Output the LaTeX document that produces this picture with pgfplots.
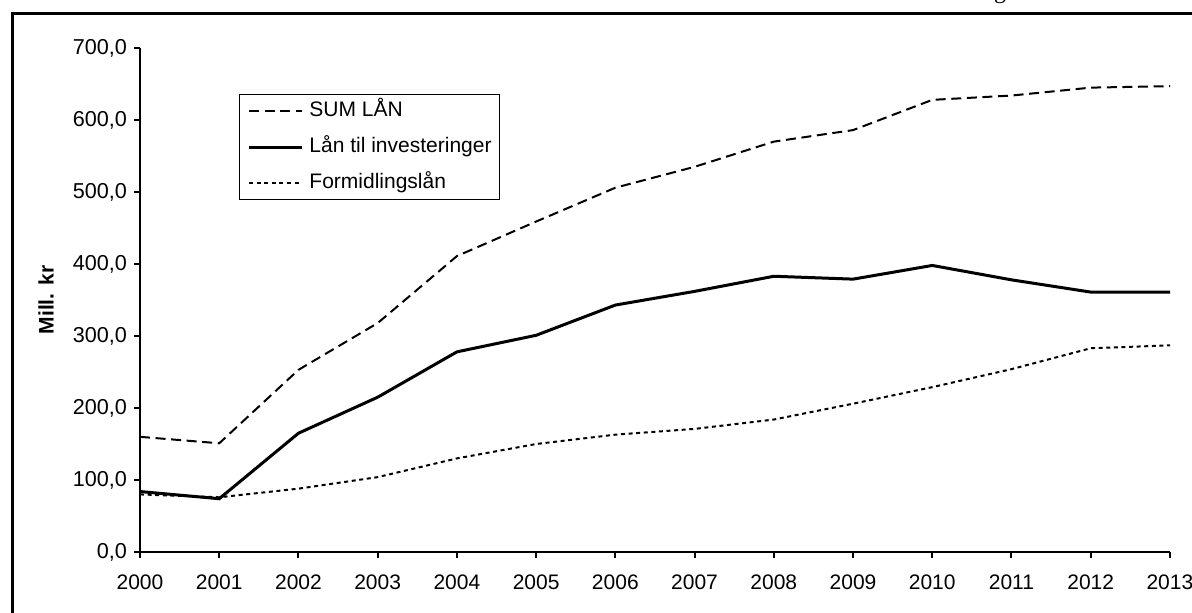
\documentclass[border=0pt]{standalone}
\usepackage{pgfplots}
\pgfplotsset{compat=1.18}
\usepackage{fontspec}
\setmainfont{Liberation Sans}
\newfontfamily\seriffont{Liberation Serif}
\pgfplotstableread{
year sum inv form
2000 160 84 80
2001 151 74 76
2002 253 165 88
2003 318 215 104
2004 411 278 130
2005 459 301 150
2006 506 343 163
2007 535 362 171
2008 570 383 184
2009 586 379 206
2010 628 398 229
2011 634 378 254
2012 645 361 283
2013 647 361 287
}\datatable
\begin{document}
\begin{tikzpicture}
\useasboundingbox (0,0) rectangle (596pt,306pt);
\clip (0,0) rectangle (596pt,306pt);
\node[anchor=base,font=\seriffont\fontsize{12}{14}\selectfont] at (500pt,306.8pt) {g};
\draw[line width=1.5pt] (6.25pt,-10pt) -- (6.25pt,299pt) -- (610pt,299pt);
\begin{axis}[
  at={(70pt,30pt)}, anchor=south west,
  scale only axis, width=515pt, height=252pt,
  xmin=2000, xmax=2013, ymin=0, ymax=700,
  axis x line=bottom, axis y line=left,
  axis line style={-, line width=1pt},
  xtick={2000,...,2013}, ytick={0,100,...,700},
  tick align=outside, major tick length=3pt,
  tick style={line width=1pt, black},
  /pgf/number format/assume math mode=true,
  x tick label style={/pgf/number format/1000 sep={}, font=\fontsize{10.5}{12}\selectfont, yshift=-5pt},
  y tick label style={/pgf/number format/.cd, fixed, fixed zerofill, precision=1, use comma, 1000 sep={}, /tikz/.cd, font=\fontsize{10.8}{12}\selectfont},
  legend style={at={(0.0961,0.9087)}, anchor=north west, draw=black, line width=0.5pt,
    font=\fontsize{10.5}{12}\selectfont, inner xsep=4pt, inner ysep=3pt,
    row sep=7.5pt, column sep=3pt,
    nodes={inner sep=0pt, text height=8pt, text depth=2.5pt},
    cells={anchor=west}},
  legend image code/.code={\draw[#1] (0pt,0pt) -- (26.5pt,0pt);},
  clip=false,
]
\addplot[black, line width=1pt, dash pattern=on 5pt off 2.8pt] table[x=year,y=sum] {\datatable};
\addlegendentry{SUM LÅN}
\addplot[black, line width=1.5pt] table[x=year,y=inv] {\datatable};
\addlegendentry{Lån til investeringer}
\addplot[black, line width=1pt, dash pattern=on 2pt off 1.8pt] table[x=year,y=form] {\datatable};
\addlegendentry{Formidlingslån}
\node[rotate=90, anchor=center, font=\bfseries\fontsize{10.5}{12}\selectfont] at (axis description cs:-0.0913,0.5) {Mill. kr};
\end{axis}
\end{tikzpicture}
\end{document}
